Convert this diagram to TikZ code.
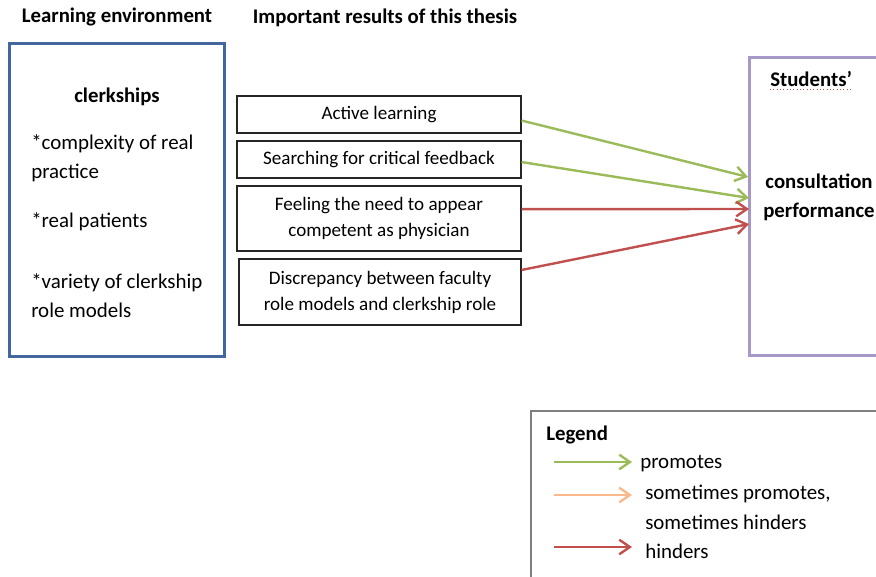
\documentclass[tikz,border=0pt]{standalone}
\usepackage{fontspec}
\setmainfont{Carlito}
\usetikzlibrary{arrows.meta}
\definecolor{envblue}{HTML}{41679C}
\definecolor{stupurple}{HTML}{A897C9}
\definecolor{promgreen}{HTML}{9BBB59}
\definecolor{hindred}{HTML}{C0504D}
\definecolor{someorange}{HTML}{FAB98A}
\definecolor{leggray}{HTML}{7F7F7F}
\begin{document}
\begin{tikzpicture}[x=0.75pt,y=-0.75pt,
  resultbox/.style={draw=black!85, line width=0.8pt, inner sep=0pt, align=center,
    font=\fontsize{14.3}{19.5}\selectfont},
  heading/.style={font=\fontsize{15.6}{18}\selectfont\bfseries, inner sep=0pt},
  envtext/.style={font=\fontsize{15.7}{21.75}\selectfont, inner sep=0pt, anchor=west, align=left},
  conn/.style={line width=1.8pt, -{Straight Barb[length=8pt,width=11pt,line width=1.8pt]}},
  legtext/.style={font=\fontsize{15.7}{18}\selectfont, inner sep=0pt, anchor=west}]
\useasboundingbox (0,0) rectangle (876,576);
\begin{scope}
\clip (0,0) rectangle (876,576);
% headings
\node[heading] (h1) at (117,17) {Learning environment};
\node[heading] (h2) at (385,18) {Important results of this thesis};
% left box
\node[draw=envblue, line width=2.25pt, minimum width=161.25pt, minimum height=234.75pt, inner sep=0pt] (env) at (116.5,199.5) {};
\node[heading] (clerk) at (117,97) {clerkships};
\node[envtext] (e1) at (31,158.5) {*complexity of real\\practice};
\node[envtext] (e2) at (31,222) {*real patients};
\node[envtext] (e3) at (31,295.5) {*variety of clerkship\\role models};
% result boxes
\node[resultbox, minimum width=213pt, minimum height=27.75pt] (b1) at (379,114.5) {Active learning};
\node[resultbox, minimum width=213pt, minimum height=27.75pt] (b2) at (379,159.5) {Searching for critical feedback};
\node[resultbox, minimum width=213pt, minimum height=48.75pt] (b3) at (379,218.5) {Feeling the need to appear\\competent as physician};
\node[resultbox, minimum width=211.5pt, minimum height=49.5pt] (b4) at (380,292) {Discrepancy between faculty\\role models and clerkship role};
% right box
\node[draw=stupurple, line width=2.25pt, minimum width=158.25pt, minimum height=223.5pt, inner sep=0pt] (stud) at (854.5,206) {};
\node[heading, anchor=west] (st) at (770,79) {Students’};
\draw[hindred, line width=0.5pt, dotted] ([yshift=-1.5pt]st.south west) -- ([yshift=-1.5pt]st.south east);
\node[heading, align=center, font=\fontsize{15.6}{21.75}\selectfont\bfseries] (cp) at (819,197.5) {consultation\\performance};
% connectors
\coordinate (t1) at (748,177);
\coordinate (t2) at (749,198);
\coordinate (t3) at (749,209);
\coordinate (t4) at (749,224);
\draw[conn, promgreen] ([yshift=-4.5pt]b1.east) -- (t1);
\draw[conn, promgreen] ([yshift=-1.9pt]b2.east) -- (t2);
\draw[conn, hindred] ([yshift=7pt]b3.east) -- (t3);
\draw[conn, hindred] ([yshift=16.5pt]b4.east) -- (t4);
% legend
\node[draw=leggray, line width=1.1pt, minimum width=351.75pt, minimum height=156.75pt, inner sep=0pt] (leg) at (765.5,515.5) {};
\node[heading, anchor=west] (lt) at (546,435) {Legend};
\coordinate (g0) at (554,462); \coordinate (g1) at (632,462);
\coordinate (o0) at (554,495); \coordinate (o1) at (632,495);
\coordinate (r0) at (554,547); \coordinate (r1) at (632,547);
\draw[conn, promgreen] (g0) -- (g1);
\draw[conn, someorange] (o0) -- (o1);
\draw[conn, hindred] (r0) -- (r1);
\node[legtext] (l1) at (640,464) {promotes};
\node[legtext] (l2) at (645,494) {sometimes promotes,};
\node[legtext] (l3) at (645,522) {sometimes hinders};
\node[legtext] (l4) at (645,551) {hinders};
\end{scope}
\end{tikzpicture}
\end{document}
